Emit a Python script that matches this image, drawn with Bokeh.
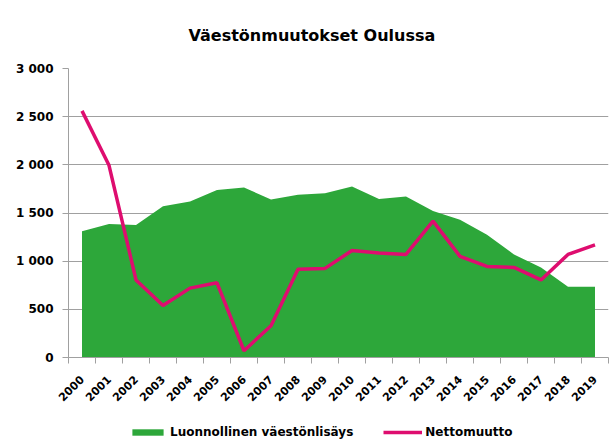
from bokeh.plotting import figure
from bokeh.models import FixedTicker, Legend, LegendItem, Range1d
from bokeh.layouts import column
from bokeh.embed import file_html
from bokeh.resources import INLINE
import math

# ---- data ----
years = list(range(2000, 2020))
year_labels = [str(y) for y in years]
natural_increase = [1310, 1385, 1375, 1570, 1620, 1740, 1765, 1640, 1690, 1705,
                    1775, 1645, 1670, 1520, 1430, 1275, 1070, 935, 735, 735]
net_migration = [2560, 1995, 805, 540, 720, 775, 70, 330, 915, 925,
                 1110, 1085, 1070, 1415, 1050, 945, 935, 805, 1070, 1170]
y_ticks = [0, 500, 1000, 1500, 2000, 2500, 3000]
y_tick_labels = ["0", "500", "1 000", "1 500", "2 000", "2 500", "3 000"]
series_names = ["Luonnollinen väestönlisäys", "Nettomuutto"]
title_text = "Väestönmuutokset Oulussa"

GREEN = "#2DA73A"
MAGENTA = "#DE0D6F"
GRID = "#A0A0A0"
FONT = "DejaVu Sans"

p = figure(width=612, height=420, output_backend="svg", toolbar_location=None,
           x_range=Range1d(years[0] - 0.5, years[-1] + 0.5),
           y_range=Range1d(y_ticks[0], y_ticks[-1]),
           min_border_left=68, min_border_right=4, min_border_top=68,
           min_border_bottom=63)
p.outline_line_color = None
p.background_fill_color = "white"
p.border_fill_color = "white"

# title
p.title.text = title_text
p.title.align = "left"
p.title.text_font = FONT
p.title.text_font_style = "bold"
p.title.text_font_size = "16px"
p.title.text_color = "black"
p.title.offset = 120
p.title.standoff = 47

# glyphs
area = p.varea(x=years, y1=[0] * len(years), y2=natural_increase,
               fill_color=GREEN, fill_alpha=1.0)
line = p.line(x=years, y=net_migration, line_color=MAGENTA, line_width=3.5)

# grid
p.xgrid.grid_line_color = None
p.ygrid.grid_line_color = GRID
p.ygrid.grid_line_width = 1.2
p.ygrid.ticker = FixedTicker(ticks=y_ticks)

# y axis
ya = p.yaxis[0]
ya.ticker = FixedTicker(ticks=y_ticks)
ya.major_label_overrides = {t: l for t, l in zip(y_ticks, y_tick_labels)}
ya.axis_line_color = GRID
ya.major_tick_line_color = GRID
ya.major_tick_out = 6
ya.major_tick_in = 0
ya.minor_tick_line_color = None
ya.major_label_text_font = FONT
ya.major_label_text_font_style = "bold"
ya.major_label_text_font_size = "12px"
ya.major_label_text_color = "black"
ya.major_label_standoff = 9

# x axis
boundaries = [y - 0.5 for y in years] + [years[-1] + 0.5]
xa = p.xaxis[0]
xa.ticker = FixedTicker(ticks=years, minor_ticks=boundaries)
xa.major_label_overrides = {y: l for y, l in zip(years, year_labels)}
xa.axis_line_color = GRID
xa.major_tick_line_color = None
xa.major_tick_out = 0
xa.major_tick_in = 0
xa.minor_tick_line_color = GRID
xa.minor_tick_out = 6
xa.minor_tick_in = 0
xa.major_label_orientation = math.pi / 4
xa.major_label_text_font = FONT
xa.major_label_text_font_style = "bold"
xa.major_label_text_font_size = "11px"
xa.major_label_text_color = "black"
xa.major_label_standoff = 14

# ---- legend strip below the chart ----
# same series drawn again off-screen (ranges far from the data) so the
# legend can show their swatches
lg = figure(width=612, height=20, output_backend="svg", toolbar_location=None,
            x_range=Range1d(-2, -1), y_range=Range1d(-2, -1),
            min_border_left=0, min_border_right=0, min_border_top=0,
            min_border_bottom=0, x_axis_location=None, y_axis_location=None)
lg.outline_line_color = None
lg.xgrid.visible = False
lg.ygrid.visible = False
lg_area = lg.varea(x=years, y1=[0] * len(years), y2=natural_increase,
                   fill_color=GREEN, fill_alpha=1.0)
lg_line = lg.line(x=years, y=net_migration, line_color=MAGENTA, line_width=3.5)

legend = Legend(items=[LegendItem(label=series_names[0], renderers=[lg_area]),
                       LegendItem(label=series_names[1], renderers=[lg_line])],
                orientation="horizontal", location=(60, 1),
                glyph_width=39, glyph_height=8, label_standoff=3, spacing=30,
                padding=0, margin=0, border_line_color=None,
                background_fill_alpha=0, label_height=14,
                label_text_font=FONT, label_text_font_style="bold",
                label_text_font_size="12px", label_text_color="black")
lg.add_layout(legend, "center")

layout = column(p, lg, spacing=0)
open("out.html", "w").write(file_html(layout, INLINE))
